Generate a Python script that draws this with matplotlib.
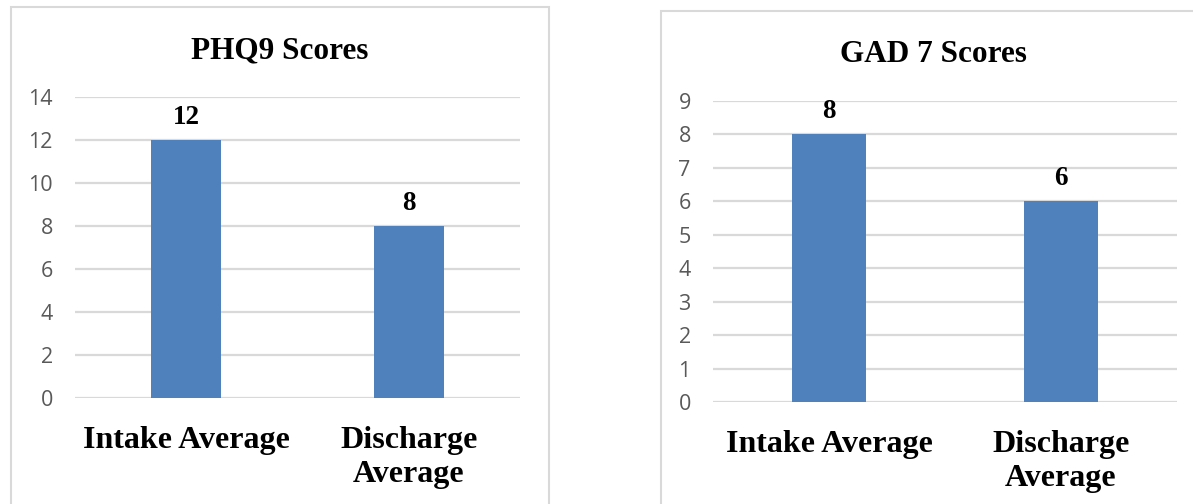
import matplotlib.pyplot as plt
from matplotlib.patches import Rectangle

W, H = 1193, 504

categories = ["Intake Average", "Discharge\nAverage"]
phq9_scores = [12, 8]
gad7_scores = [8, 6]

bar_color = "#4F81BD"
grid_color = "#D9D9D9"
tick_color = "#595959"
serif = "Liberation Serif"
sans = "Open Sans"

fig = plt.figure(figsize=(W / 100, H / 100), dpi=100)


def px_box(x0, y0, x1, y1):
    # pixel box (top-left origin) -> figure fraction [left, bottom, width, height]
    return [x0 / W, 1 - y1 / H, (x1 - x0) / W, (y1 - y0) / H]


def draw_chart(rect, values, ymax, title, title_xy):
    ax = fig.add_axes(rect)
    x = range(len(values))
    ax.bar(x, values, width=0.315, color=bar_color, zorder=3)
    ax.set_xlim(-0.5, len(values) - 0.5)
    ax.set_ylim(0, ymax)
    ax.set_yticks(range(0, ymax + 1, 2 if ymax > 10 else 1))
    ax.yaxis.grid(True, color=grid_color, lw=1.6, zorder=0)
    ax.set_axisbelow(True)
    for s in ax.spines.values():
        s.set_visible(False)
    ax.tick_params(axis="both", length=0)
    ax.tick_params(axis="y", pad=16, labelcolor=tick_color, labelsize=15.5)
    for lab in ax.get_yticklabels():
        lab.set_fontfamily(sans)
    ax.set_xticks(list(x))
    ax.set_xticklabels(categories, fontfamily=serif, fontweight="bold",
                       fontsize=23, linespacing=1.25)
    ax.tick_params(axis="x", pad=20)
    for i, v in enumerate(values):
        ax.annotate(str(v), (i, v), xytext=(0, 11.5), textcoords="offset points",
                    ha="center", va="baseline", fontfamily=serif,
                    fontweight="bold", fontsize=19.5)
    fig.text(title_xy[0] / W, 1 - title_xy[1] / H, title, ha="center",
             va="baseline", fontfamily=serif, fontweight="bold", fontsize=22.5)
    return ax


draw_chart(px_box(75, 97, 520, 398), phq9_scores, 14, "PHQ9 Scores", (280, 58))
draw_chart(px_box(713, 101, 1177, 402), gad7_scores, 9, "GAD 7 Scores", (933, 62))

# chart area outlines
fig.patches.append(Rectangle((11 / W, -0.1), 538 / W, 1.1 - 7 / H,
                             transform=fig.transFigure, fill=False,
                             edgecolor=grid_color, lw=1.5))
fig.patches.append(Rectangle((661 / W, -0.1), 0.5, 1.1 - 11 / H,
                             transform=fig.transFigure, fill=False,
                             edgecolor=grid_color, lw=1.5))

fig.savefig("out.png", dpi=100)
